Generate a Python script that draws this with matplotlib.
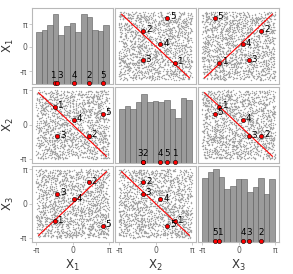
import numpy as np
import matplotlib
matplotlib.use("Agg")
import matplotlib.pyplot as plt

# ---- data ----
var_labels = ["X$_1$", "X$_2$", "X$_3$"]
point_ids = ["1", "2", "3", "4", "5"]
x1_pts = [-1.55, 1.40, -1.30, 0.15, 2.60]
x2_pts = [1.65, -1.05, -1.10, 0.42, 1.00]
x3_pts = [-1.65, 1.95, 0.88, 0.40, -2.05]
# histogram bar heights (13 bins over [-pi, pi]) for each variable
hist_x1 = [69, 71, 78, 92, 64, 76, 80, 69, 92, 88, 71, 70, 78]
hist_x2 = [71, 75, 70, 79, 90, 79, 81, 79, 82, 71, 59, 85, 82]
hist_x3 = [83, 91, 95, 85, 69, 73, 82, 82, 65, 72, 83, 63, 82]
# red reference line slopes: sign of relation between (row var, col var)
line_sign = {(0, 1): -1, (0, 2): 1, (1, 0): -1, (1, 2): -1, (2, 0): 1, (2, 1): -1}
line_extent = [-2.92, 2.92]
tick_vals = [-np.pi, 0, np.pi]
tick_text = ["-\u03c0", "0", "\u03c0"]

# background sample cloud (unreadable texture: uniform sample over the input box)
rng = np.random.default_rng(7)
n_cloud = 1700
cloud = rng.uniform(-np.pi, np.pi, size=(n_cloud, 3))

pts = [x1_pts, x2_pts, x3_pts]
hists = [hist_x1, hist_x2, hist_x3]

W, H = 293, 274
fig = plt.figure(figsize=(W / 100, H / 100), dpi=100)
plt.rcParams['font.family'] = ['DejaVu Sans']

lefts = [32, 115, 198]
tops = [8, 86.5, 165.5]
pw, ph = 81, 76
lim = 3.49
frame_col = "#b8b8b8"
tick_col = "#555555"

for i in range(3):          # row
    for j in range(3):      # column
        ax = fig.add_axes([lefts[j] / W, 1 - (tops[i] + ph) / H, pw / W, ph / H])
        for s in ax.spines.values():
            s.set_color(frame_col)
            s.set_linewidth(0.8)
        ax.set_xlim(-lim, lim)
        if i == j:
            edges = np.linspace(-np.pi, np.pi, len(hists[i]) + 1)
            ax.bar(edges[:-1], hists[i], width=np.diff(edges), align="edge",
                   color="#9b9b9b", edgecolor="#5a5a5a", linewidth=0.4)
            ax.set_ylim(0, 100)
            ax.scatter(pts[i], [0.8] * 5, s=9, color="red", edgecolor="black",
                       linewidths=0.4, zorder=5, clip_on=False)
            xs = pts[i]
            for k, lab in enumerate(point_ids):
                # nudge labels of points that sit nearly on top of each other
                dx = 0.0
                for m in range(5):
                    if m != k and abs(xs[m] - xs[k]) < 0.35:
                        dx = -1.6 if xs[k] < xs[m] or (xs[k] == xs[m] and k < m) else 1.6
                ax.annotate(lab, (xs[k], 0.8), xytext=(dx, 2.6),
                            textcoords="offset points", ha="center", va="bottom",
                            fontsize=6.3, color="black", zorder=6)
            if j == 0:
                ax.set_yticks([17.1, 48.7, 78.9])
        else:
            ax.scatter(cloud[:, j], cloud[:, i], s=1.0, color="#a5a5a5",
                       linewidths=0, zorder=1)
            sgn = line_sign[(i, j)]
            ax.plot(line_extent, [sgn * v for v in line_extent], color="red",
                    linewidth=0.8, zorder=2)
            ax.scatter(pts[j], pts[i], s=9, color="red", edgecolor="black",
                       linewidths=0.4, zorder=5)
            for k, lab in enumerate(point_ids):
                ax.annotate(lab, (pts[j][k], pts[i][k]), xytext=(2.0, 0.8),
                            textcoords="offset points", ha="left", va="center",
                            fontsize=6.3, color="black", zorder=6)
            ax.set_ylim(-lim, lim)
            if j == 0:
                ax.set_yticks(tick_vals)
        if j == 0:
            ax.set_yticklabels(tick_text)
            ax.set_ylabel(var_labels[i], fontsize=8.5, color="#333333", labelpad=3)
        else:
            ax.set_yticks([])
        if i == 2:
            ax.set_xticks(tick_vals)
            ax.set_xticklabels(tick_text)
            ax.set_xlabel(var_labels[j], fontsize=8.5, color="#333333", labelpad=2)
        else:
            ax.set_xticks([])
        ax.tick_params(length=2, width=0.5, color=frame_col, labelsize=5.5,
                       labelcolor=tick_col, pad=1.5)

fig.savefig("out.png", dpi=100)
